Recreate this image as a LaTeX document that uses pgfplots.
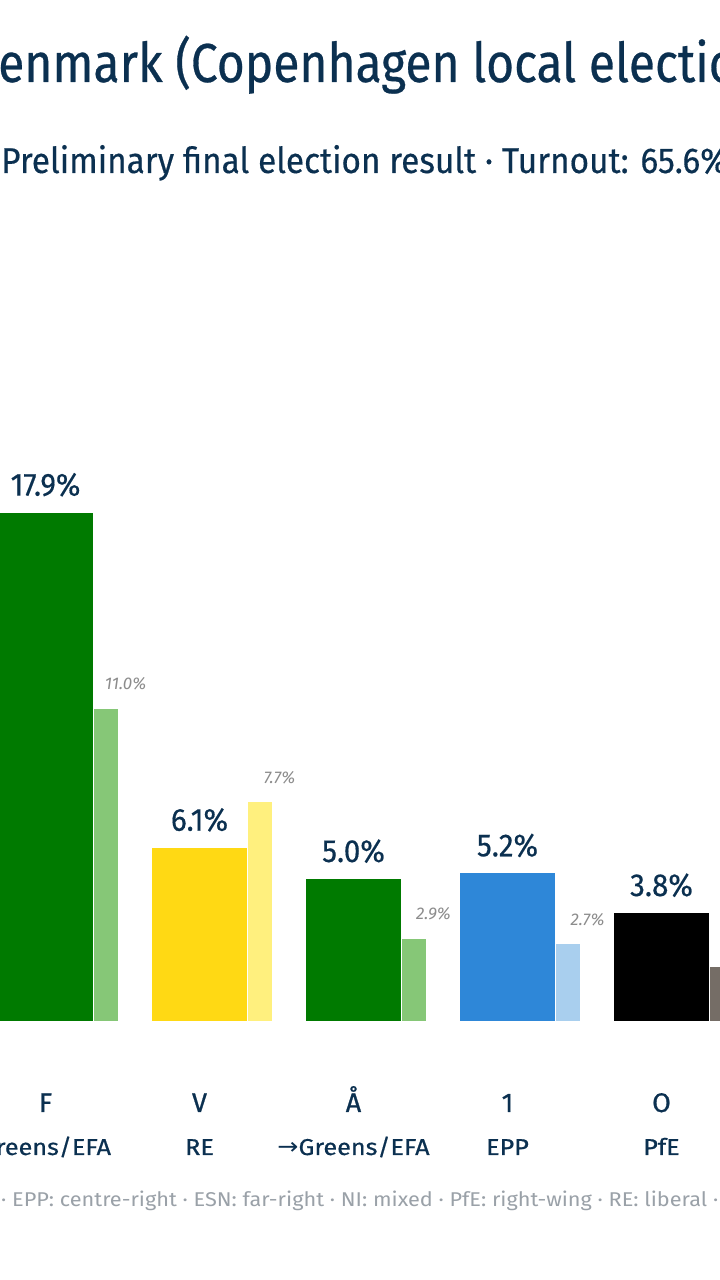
\documentclass[border=0pt]{standalone}
\usepackage{pgfplots}
\pgfplotsset{compat=1.18}
\usepackage{fontspec}
\setmainfont{Fira Sans}
\newfontfamily\arrowfont{DejaVu Sans}
\newfontfamily\titlefont{Fira Sans}[FakeStretch=0.875, FakeBold=0.5]
\newfontfamily\subfont{Fira Sans}[FakeStretch=0.93, FakeBold=0.4]
\newfontfamily\catfont{Fira Sans}[FakeBold=0.8]
\newfontfamily\grpfont{Fira Sans}[FakeStretch=1.1, FakeBold=0.6]
\newfontfamily\footfont{Fira Sans}[FakeStretch=1.09]
\newfontfamily\arrowfontw{DejaVu Sans}[FakeStretch=1.1]
\definecolor{navy}{HTML}{0B3050}
\definecolor{labgray}{HTML}{8C8C8C}
\definecolor{footgray}{HTML}{9AA1A8}
\definecolor{cF}{HTML}{007A00}
\definecolor{cFp}{HTML}{86C777}
\definecolor{cV}{HTML}{FFD914}
\definecolor{cVp}{HTML}{FFF07E}
\definecolor{cA}{HTML}{007A00}
\definecolor{cAp}{HTML}{86C777}
\definecolor{cC}{HTML}{2E87D8}
\definecolor{cCp}{HTML}{A9CFEE}
\definecolor{cO}{HTML}{000000}
\definecolor{cOp}{HTML}{756D66}
\begin{document}
\begin{tikzpicture}[x=1bp,y=1bp]
\fill[white] (0,0) rectangle (720,1280);
\begin{axis}[at={(0,0)}, anchor=south west, scale only axis,
  width=720bp, height=1280bp,
  xmin=-0.29545, xmax=4.37987, ymin=-9.1197, ymax=35.951,
  hide axis, ybar,
  /pgf/number format/assume math mode=true,
  main/.style={fill=#1, draw=none, bar width=95bp, bar shift=0pt,
    nodes near coords={\pgfmathprintnumber[fixed,fixed zerofill,precision=1]{\pgfplotspointmeta}\%},
    every node near coord/.append style={font=\fontsize{32}{32}\subfont, text=navy, anchor=base, yshift=17bp, inner sep=0pt}},
  prev/.style={fill=#1, draw=none, bar width=24bp, bar shift=60bp,
    nodes near coords={\pgfmathprintnumber[fixed,fixed zerofill,precision=1]{\pgfplotspointmeta}\%},
    every node near coord/.append style={font=\fontsize{17}{17}\selectfont\itshape, text=labgray, anchor=center, yshift=25bp, xshift=20bp, inner sep=0pt}},
]
\addplot[main=cF] coordinates {(0,17.9)};
\addplot[prev=cFp] coordinates {(0,11.0)};
\addplot[main=cV] coordinates {(1,6.1)};
\addplot[prev=cVp] coordinates {(1,7.7)};
\addplot[main=cA] coordinates {(2,5.0)};
\addplot[prev=cAp] coordinates {(2,2.9)};
\addplot[main=cC] coordinates {(3,5.2)};
\addplot[prev=cCp] coordinates {(3,2.7)};
\addplot[main=cO] coordinates {(4,3.8)};
\addplot[prev=cOp] coordinates {(4,1.9)};
\end{axis}
% titles
\node[anchor=base west, inner sep=0, text=navy, font=\fontsize{55}{55}\titlefont] at (-2,1198) {\llap{D}enmark (Copenhagen local election)};
\node[anchor=base west, inner sep=0, text=navy, font=\fontsize{36}{36}\subfont] at (1,1107) {Preliminary final election result · Turnout: 65.6\%};
% category labels
\foreach \cx/\lab/\grp in {45.5/F/Greens\slash EFA, 199.5/V/RE, 353.5/Å/{{\arrowfontw →}Greens\slash EFA}, 507.5/1/EPP, 661.5/O/PfE} {
  \node[anchor=base, inner sep=0, text=navy, font=\fontsize{27}{27}\catfont] at (\cx,168) {\lab};
  \node[anchor=base, inner sep=0, text=navy, font=\fontsize{23}{23}\grpfont] at (\cx,125) {\grp};
}
\node[anchor=base west, inner sep=0, text=footgray, font=\fontsize{20}{20}\footfont] at (1,73) {\llap{Greens/EFA: green }· EPP: centre-right · ESN: far-right · NI: mixed · PfE: right-wing · RE: liberal · S\&D: centre-left};
\pgfresetboundingbox
\path[use as bounding box] (0,0) rectangle (720,1280);
\end{tikzpicture}
\end{document}
